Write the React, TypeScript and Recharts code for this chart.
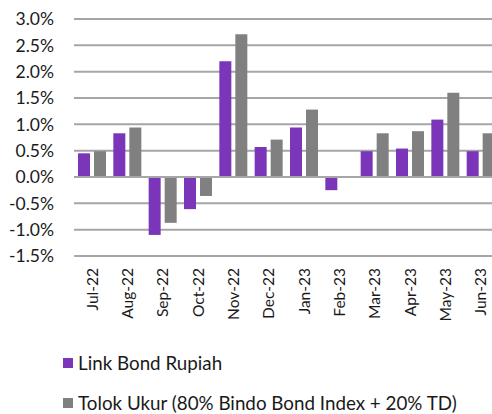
import { BarChart, Bar, XAxis, YAxis, CartesianGrid, ReferenceLine } from "recharts";

const months = ["Jul-22", "Aug-22", "Sep-22", "Oct-22", "Nov-22", "Dec-22", "Jan-23", "Feb-23", "Mar-23", "Apr-23", "May-23", "Jun-23"];
const linkBond = [0.45, 0.83, -1.1, -0.61, 2.2, 0.57, 0.94, -0.25, 0.49, 0.54, 1.09, 0.49];
const tolokUkur = [0.49, 0.94, -0.87, -0.36, 2.71, 0.71, 1.28, 0, 0.83, 0.87, 1.6, 0.83];
const yTicks = [-1.5, -1.0, -0.5, 0, 0.5, 1.0, 1.5, 2.0, 2.5, 3.0];

const PURPLE = "#7B35B8";
const GREY = "#808080";
const FONT = "Lato, 'Open Sans', sans-serif";

const data = months.map((m, i) => ({ month: m, link: linkBond[i], tolok: tolokUkur[i] }));

const legendItems = [
  { label: "Link Bond Rupiah", color: PURPLE },
  { label: "Tolok Ukur (80% Bindo Bond Index + 20% TD)", color: GREY },
];

function LegendBox() {
  return (
    <div style={{ position: "absolute", left: 63, top: 342, fontFamily: FONT, fontSize: 18.8, color: "#1a1a1a" }}>
      {legendItems.map((it) => (
        <div key={it.label} style={{ display: "flex", alignItems: "center", height: 40, whiteSpace: "nowrap" }}>
          <span style={{ width: 10, height: 10, background: it.color, marginRight: 5, marginTop: 2 }} />
          <span>{it.label}</span>
        </div>
      ))}
    </div>
  );
}

export default function App() {
  return (
    <div style={{ position: "absolute", left: 0, top: 0, width: 492, height: 414, overflow: "hidden", background: "#fff" }}>
      <BarChart
        width={500}
        height={414}
        data={data}
        margin={{ top: 19, right: 2, left: 0, bottom: 0 }}
        barGap={4}
        barCategoryGap={4}
      >
        <CartesianGrid vertical={false} stroke="#A6A6A6" strokeWidth={2} />
        <YAxis
          width={74}
          domain={[-1.5, 3]}
          ticks={yTicks}
          interval={0}
          axisLine={false}
          tickLine={false}
          tickFormatter={(v: number) => `${v.toFixed(1)}%`}
          tick={{ fill: "#1a1a1a", fontSize: 17.5, fontFamily: FONT }}
          tickMargin={14}
        />
        <XAxis
          dataKey="month"
          height={158}
          interval={0}
          axisLine={false}
          tickLine={false}
          angle={-90}
          textAnchor="end"
          tick={{ fill: "#1a1a1a", fontSize: 15.5, fontFamily: FONT, dx: -5, dy: 4 }}
        />
        <ReferenceLine y={0} stroke="#A6A6A6" strokeWidth={2} />
        <Bar dataKey="link" fill={PURPLE} barSize={12} isAnimationActive={false} />
        <Bar dataKey="tolok" fill={GREY} barSize={12} isAnimationActive={false} />
      </BarChart>
      <LegendBox />
    </div>
  );
}
